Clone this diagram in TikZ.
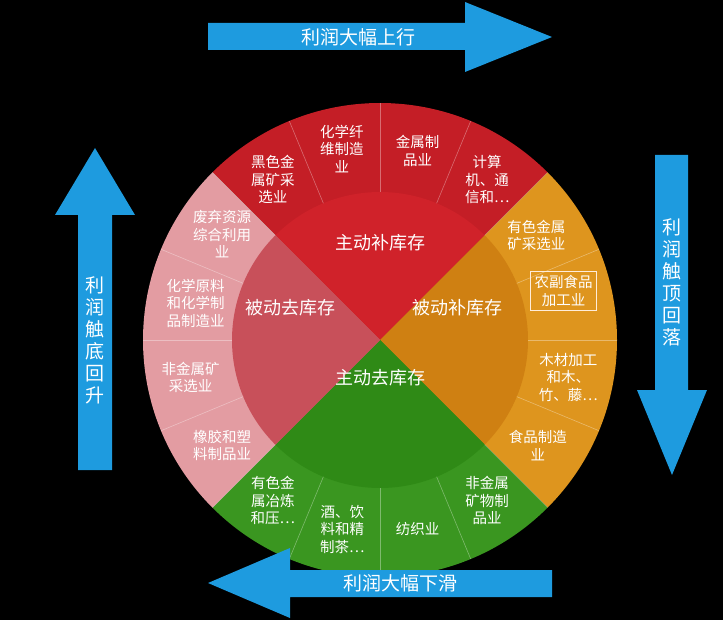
\documentclass[tikz,border=0pt]{standalone}
\usepackage{fontspec}
\setmainfont{Noto Sans CJK SC}
\usetikzlibrary{calc}
\begin{document}
\begin{tikzpicture}[x=1pt,y=-1pt,
  ring/.style={text=white,align=center,font=\fontsize{14.5}{17.5}\selectfont},
  inner/.style={text=white,font=\fontsize{18}{20}\selectfont},
  arr/.style={fill=arrowblue,draw=none},
  arrtxt/.style={text=white,font=\fontsize{19}{22}\selectfont,align=center}]
\definecolor{arrowblue}{HTML}{1E9BDF}
\definecolor{tO}{HTML}{C41E26}\definecolor{tI}{HTML}{D0222A}
\definecolor{rO}{HTML}{DE951E}\definecolor{rI}{HTML}{CF8012}
\definecolor{bO}{HTML}{3A9620}\definecolor{bI}{HTML}{2F8A16}
\definecolor{lO}{HTML}{E39CA2}\definecolor{lI}{HTML}{C8505A}
\fill[black] (0,0) rectangle (723,620);
\useasboundingbox (0,0) rectangle (723,620);
\coordinate (c) at (380,340);
% outer quadrants
\fill[tO] (c) -- +(-45:237) arc[start angle=-45,end angle=-135,radius=237] -- cycle;
\fill[rO] (c) -- +(45:237) arc[start angle=45,end angle=-45,radius=237] -- cycle;
\fill[bO] (c) -- +(135:237) arc[start angle=135,end angle=45,radius=237] -- cycle;
\fill[lO] (c) -- +(-135:237) arc[start angle=-135,end angle=-225,radius=237] -- cycle;
% inner
\fill[tI] (c) -- +(-45:148) arc[start angle=-45,end angle=-135,radius=148] -- cycle;
\fill[rI] (c) -- +(45:148) arc[start angle=45,end angle=-45,radius=148] -- cycle;
\fill[bI] (c) -- +(135:148) arc[start angle=135,end angle=45,radius=148] -- cycle;
\fill[lI] (c) -- +(-135:148) arc[start angle=-135,end angle=-225,radius=148] -- cycle;
% dividers
\foreach \a in {22.5,45,...,360} \draw[white,opacity=.35,line width=.6pt] ($(c)+(\a:148)$) -- ($(c)+(\a:237)$);
\node[inner] (i1) at (380,243) {主动补库存};
\node[inner] (i2) at (457,308) {被动补库存};
\node[inner] (i3) at (380,378) {主动去库存};
\node[inner] (i4) at (290,308) {被动去库存};
% ring labels
\node[ring] (s1) at ($(c)+(-123.75:193)$) {黑色金\\属矿采\\选业};
\node[ring] (s2) at ($(c)+(-101.25:195)$) {化学纤\\维制造\\业};
\node[ring] (s3) at ($(c)+(-78.75:193)$) {金属制\\品业};
\node[ring] (s4) at ($(c)+(-56.25:193)$) {计算\\机、通\\信和…};
\node[ring] (s5) at ($(c)+(-33.75:188)$) {有色金属\\矿采选业};
\node[ring,draw=white!85!orange,line width=1pt,inner sep=4pt] (s6) at ($(c)+(-15:190)$) {农副食品\\加工业};
\node[ring] (s7) at ($(c)+(11.25:192)$) {木材加工\\和木、\\竹、藤…};
\node[ring] (s8) at ($(c)+(33.75:190)$) {食品制造\\业};
\node[ring] (s9) at ($(c)+(56.25:193)$) {非金属\\矿物制\\品业};
\node[ring] (s10) at ($(c)+(78.75:193)$) {纺织业};
\node[ring] (s11) at ($(c)+(101.25:193)$) {酒、饮\\料和精\\制茶…};
\node[ring] (s12) at ($(c)+(123.75:193)$) {有色金\\属冶炼\\和压…};
\node[ring] (s13) at ($(c)+(146.25:190)$) {橡胶和塑\\料制品业};
\node[ring] (s14) at ($(c)+(168.75:193)$) {非金属矿\\采选业};
\node[ring] (s15) at ($(c)+(-168.75:188)$) {化学原料\\和化学制\\品制造业};
\node[ring] (s16) at ($(c)+(-146.25:190)$) {废弃资源\\综合利用\\业};
% arrows
\fill[arr] (208,23) -- (465,23) -- (465,2) -- (552,37) -- (465,72) -- (465,50) -- (208,50) -- cycle;
\node[arrtxt] (a1) at (358,37) {利润大幅上行};
\fill[arr] (655,155) -- (688,155) -- (688,390) -- (707,390) -- (672,475) -- (637,390) -- (655,390) -- cycle;
\node[arrtxt] (a2) at (672,282) {利\\润\\触\\顶\\回\\落};
\fill[arr] (552,570) -- (290,570) -- (290,548) -- (208,583) -- (290,618) -- (290,597) -- (552,597) -- cycle;
\node[arrtxt] (a3) at (400,583) {利润大幅下滑};
\fill[arr] (78,470) -- (112,470) -- (112,215) -- (135,215) -- (95,148) -- (55,215) -- (78,215) -- cycle;
\node[arrtxt] (a4) at (95,340) {利\\润\\触\\底\\回\\升};
\end{tikzpicture}
\end{document}
